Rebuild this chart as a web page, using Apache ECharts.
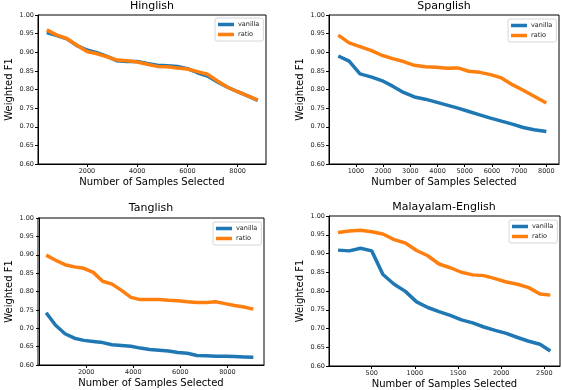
<!DOCTYPE html>
<html>
<head>
<meta charset="utf-8">
<script src="https://cdn.jsdelivr.net/npm/echarts@6/dist/echarts.min.js"></script>
<style>
  html, body { margin: 0; padding: 0; background: #fff; }
  #chart { width: 562px; height: 390px; }
</style>
</head>
<body>
<div id="chart"></div>
<script>
// panel titles
var titles = ['Hinglish', 'Spanglish', 'Tanglish', 'Malayalam-English'];
var seriesNames = ['vanilla', 'ratio'];

// Hinglish
var hinX = [400, 800, 1200, 1600, 2000, 2400, 2800, 3200, 3600, 4000, 4400, 4800, 5200, 5600, 6000, 6400, 6800, 7200, 7600, 8000, 8400, 8800];
var hinVanilla = [0.953, 0.945, 0.936, 0.918, 0.906, 0.899, 0.889, 0.877, 0.875, 0.875, 0.870, 0.865, 0.864, 0.862, 0.856, 0.845, 0.836, 0.820, 0.806, 0.794, 0.783, 0.771];
var hinRatio = [0.960, 0.946, 0.937, 0.919, 0.902, 0.896, 0.888, 0.879, 0.877, 0.874, 0.868, 0.862, 0.861, 0.858, 0.855, 0.848, 0.841, 0.823, 0.806, 0.794, 0.783, 0.772];

// Spanglish
var spaX = [350, 750, 1150, 1550, 1950, 2350, 2750, 3150, 3550, 3950, 4350, 4750, 5150, 5550, 5950, 6350, 6750, 7150, 7550, 8000];
var spaVanilla = [0.890, 0.876, 0.842, 0.834, 0.824, 0.809, 0.792, 0.780, 0.774, 0.766, 0.758, 0.750, 0.741, 0.732, 0.723, 0.715, 0.707, 0.698, 0.692, 0.687];
var spaRatio = [0.946, 0.925, 0.915, 0.905, 0.892, 0.883, 0.875, 0.865, 0.861, 0.860, 0.857, 0.858, 0.849, 0.846, 0.840, 0.831, 0.813, 0.798, 0.782, 0.764];

// Tanglish
var tanX = [300, 700, 1100, 1500, 1900, 2300, 2700, 3100, 3500, 3900, 4300, 4700, 5100, 5500, 5900, 6300, 6700, 7100, 7500, 7900, 8300, 8700, 9100];
var tanVanilla = [0.742, 0.708, 0.685, 0.673, 0.667, 0.664, 0.661, 0.655, 0.653, 0.651, 0.646, 0.642, 0.640, 0.638, 0.634, 0.632, 0.626, 0.625, 0.624, 0.624, 0.623, 0.622, 0.621];
var tanRatio = [0.899, 0.885, 0.873, 0.867, 0.863, 0.852, 0.828, 0.820, 0.803, 0.784, 0.778, 0.778, 0.778, 0.776, 0.775, 0.772, 0.770, 0.770, 0.772, 0.767, 0.762, 0.758, 0.752];

// Malayalam-English
var malX = [110, 240, 370, 500, 630, 760, 890, 1020, 1150, 1280, 1410, 1540, 1670, 1800, 1930, 2060, 2190, 2320, 2450, 2570];
var malVanilla = [0.909, 0.907, 0.914, 0.907, 0.844, 0.818, 0.799, 0.771, 0.756, 0.745, 0.735, 0.723, 0.715, 0.704, 0.695, 0.687, 0.676, 0.666, 0.658, 0.640];
var malRatio = [0.956, 0.960, 0.962, 0.958, 0.952, 0.937, 0.928, 0.908, 0.894, 0.872, 0.862, 0.850, 0.843, 0.841, 0.833, 0.824, 0.818, 0.809, 0.792, 0.789];

// x tick labels per panel
var hinTicks = [2000, 4000, 6000, 8000];
var spaTicks = [1000, 2000, 3000, 4000, 5000, 6000, 7000, 8000];
var tanTicks = [2000, 4000, 6000, 8000];
var malTicks = [500, 1000, 1500, 2000, 2500];

var panels = [
  { x: hinX, v: hinVanilla, r: hinRatio, ticks: hinTicks, min: 50, max: 9130,
    grid: { left: 38, top: 15, width: 228, height: 149 }, title: [152, 1], legend: [215, 18] },
  { x: spaX, v: spaVanilla, r: spaRatio, ticks: spaTicks, min: 10, max: 8466,
    grid: { left: 329, top: 15, width: 230, height: 149 }, title: [444, 1], legend: [508, 19] },
  { x: tanX, v: tanVanilla, r: tanRatio, ticks: tanTicks, min: -47, max: 9553,
    grid: { left: 38, top: 218, width: 226, height: 147 }, title: [151, 203], legend: [213, 222] },
  { x: malX, v: malVanilla, r: malRatio, ticks: malTicks, min: 5, max: 2682,
    grid: { left: 329, top: 216, width: 231, height: 150 }, title: [444, 202], legend: [509, 220] }
];

var FONT = 'DejaVu Sans';
var grids = [], xAxes = [], yAxes = [], series = [], titleList = [], legends = [];

function pairs(xs, ys) {
  return xs.map(function (x, i) { return [x, ys[i]]; });
}

panels.forEach(function (p, i) {
  grids.push(Object.assign({ show: true, borderColor: '#000', borderWidth: 1, outerBoundsMode: 'none' }, p.grid));
  titleList.push({
    text: titles[i], left: p.title[0], top: p.title[1], textAlign: 'center', padding: 0,
    textStyle: { fontFamily: FONT, fontSize: 11, fontWeight: 'normal', color: '#000' }
  });
  legends.push({
    data: seriesNames, left: p.legend[0], top: p.legend[1], orient: 'vertical',
    icon: 'rect', itemWidth: 16, itemHeight: 3.5, itemGap: 3,
    padding: [3, 4, 3, 3], backgroundColor: '#fff', borderColor: '#ccc', borderWidth: 0.8, borderRadius: 2,
    textStyle: { fontFamily: FONT, fontSize: 6.5, color: '#222', padding: [0, 0, 0, -1] },
    selectedMode: false
  });
  xAxes.push({
    type: 'value', gridIndex: i, min: p.min, max: p.max,
    name: 'Number of Samples Selected', nameLocation: 'middle', nameGap: 13,
    nameTextStyle: { fontFamily: FONT, fontSize: 10, color: '#000' },
    axisLine: { show: true, lineStyle: { color: '#000', width: 1 } },
    axisTick: { show: true, length: 3, customValues: p.ticks, lineStyle: { color: '#000' } },
    axisLabel: { customValues: p.ticks, fontFamily: FONT, fontSize: 6.5, color: '#222', margin: 4,
      formatter: function (v) { return String(v); } },
    splitLine: { show: false }
  });
  yAxes.push({
    type: 'value', gridIndex: i, min: 0.6, max: 1.0, interval: 0.05,
    name: 'Weighted F1', nameLocation: 'middle', nameGap: 24,
    nameTextStyle: { fontFamily: FONT, fontSize: 10, color: '#000' },
    axisLine: { show: true, lineStyle: { color: '#000', width: 1 } },
    axisTick: { show: true, length: 3, lineStyle: { color: '#000' } },
    axisLabel: { fontFamily: FONT, fontSize: 6.5, color: '#222', margin: 4,
      formatter: function (v) { return v.toFixed(2); } },
    splitLine: { show: false }
  });
  series.push({
    name: 'vanilla', type: 'line', xAxisIndex: i, yAxisIndex: i, data: pairs(p.x, p.v),
    showSymbol: false, color: '#1f77b4', lineStyle: { width: 3.5, color: '#1f77b4' }, animation: false
  });
  series.push({
    name: 'ratio', type: 'line', xAxisIndex: i, yAxisIndex: i, data: pairs(p.x, p.r),
    showSymbol: false, color: '#ff7f0e', lineStyle: { width: 3.5, color: '#ff7f0e' }, animation: false
  });
});

var chart = echarts.init(document.getElementById('chart'));
chart.setOption({
  animation: false,
  backgroundColor: '#fff',
  title: titleList,
  legend: legends,
  grid: grids,
  xAxis: xAxes,
  yAxis: yAxes,
  series: series
});
</script>
</body>
</html>
